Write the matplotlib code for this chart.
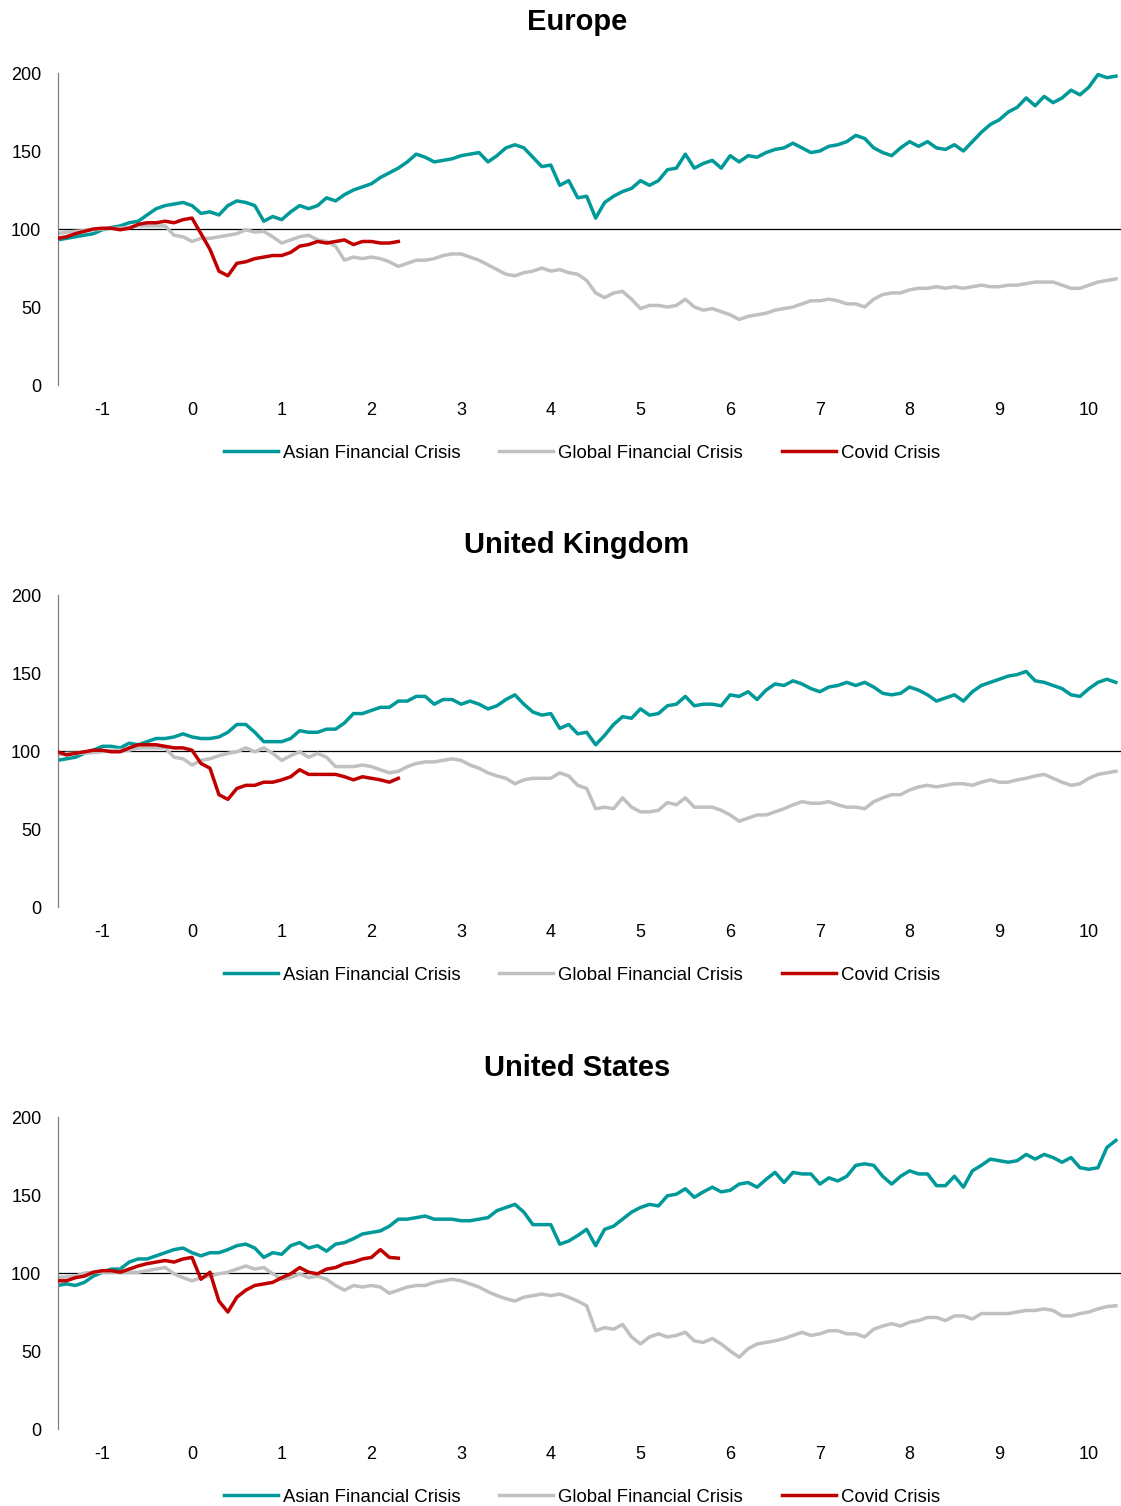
import numpy as np
import matplotlib.pyplot as plt

plt.rcParams['font.family'] = ['Liberation Sans', 'DejaVu Sans']
plt.rcParams['axes.unicode_minus'] = False

# years relative to the start of each crisis
years = np.round(np.arange(-1.5, 10.35, 0.1), 1)
covid_years = years[:39]

europe_afc = [93, 94, 95, 96, 97, 99.5, 101, 102, 104, 105,
              109, 113, 115, 116, 117, 115, 110, 111, 109, 115,
              118, 117, 115, 105, 108, 106, 111, 115, 113, 115,
              120, 118, 122, 125, 127, 129, 133, 136, 139, 143,
              148, 146, 143, 144, 145, 147, 148, 149, 143, 147,
              152, 154, 152, 146, 140, 141,
              128, 131, 120, 121, 107, 117, 121, 124, 126, 131,
              128, 131, 138, 139, 148, 139, 142, 144, 139, 147,
              143, 147, 146, 149, 151, 152, 155, 152, 149, 150,
              153, 154, 156, 160, 158, 152, 149, 147, 152, 156,
              153, 156, 152, 151, 154, 150, 156, 162, 167, 170,
              175, 178, 184, 179, 185, 181, 184, 189, 186, 191,
              199, 197, 198]
europe_gfc = [97, 98, 98.5, 99, 99.5, 100, 100.5, 100.5, 101, 102,
              102, 102, 102, 96, 95, 92, 94, 94, 95, 96,
              97, 99.5, 98, 98.5, 95, 91, 93, 95, 96, 93,
              92, 89, 80, 82, 81, 82, 81, 79, 76, 78,
              80, 80, 81, 83, 84, 84, 82, 80, 77, 74,
              71, 70, 72, 73, 75, 73,
              74, 72, 71, 67, 59, 56, 59, 60, 55, 49,
              51, 51, 50, 51, 55, 50, 48, 49, 47, 45,
              42, 44, 45, 46, 48, 49, 50, 52, 54, 54,
              55, 54, 52, 52, 50, 55, 58, 59, 59, 61,
              62, 62, 63, 62, 63, 62, 63, 64, 63, 63,
              64, 64, 65, 66, 66, 66, 64, 62, 62, 64,
              66, 67, 68]
europe_covid = [94, 95, 97, 98.5, 100, 100.5, 100.5, 99.5, 100.5, 103,
                104, 104, 105, 104, 106, 107, 97, 87, 73, 70,
                78, 79, 81, 82, 83, 83, 85, 89, 90, 92,
                91, 92, 93, 90, 92, 92, 91, 91, 92]

uk_afc = [94, 95, 96, 98.5, 100.5, 103, 103, 102, 105, 104,
          106, 108, 108, 109, 111, 109, 108, 108, 109, 112,
          117, 117, 112, 106, 106, 106, 108, 113, 112, 112,
          114, 114, 118, 124, 124, 126, 128, 128, 132, 132,
          135, 135, 130, 133, 133, 130, 132, 130, 127, 129,
          133, 136, 130, 125, 123, 124,
          114.5, 117, 111, 112, 104, 110, 117, 122, 121, 127,
          123, 124, 129, 130, 135, 129, 130, 130, 129, 136,
          135, 138, 133, 139, 143, 142, 145, 143, 140, 138,
          141, 142, 144, 142, 144, 141, 137, 136, 137, 141,
          139, 136, 132, 134, 136, 132, 138, 142, 144, 146,
          148, 149, 151, 145, 144, 142, 140, 136, 135, 140,
          144, 146, 144]
uk_gfc = [97.5, 98.5, 98.5, 98.5, 99, 99.5, 100.5, 100.5, 100.5, 102,
          102, 102, 102, 96, 95, 91, 94, 95, 97, 98.5,
          99.5, 102, 99.5, 102, 98.5, 94, 97, 99.5, 96, 98.5,
          96, 90, 90, 90, 91, 90, 88, 86, 87, 90,
          92, 93, 93, 94, 95, 94, 91, 89, 86, 84,
          82.5, 79, 81.5, 82.5, 82.5, 82.5,
          86, 84, 78, 76, 63, 64, 63, 70, 64, 61,
          61, 62, 67, 65.5, 70, 64, 64, 64, 62, 59,
          55, 57, 59, 59, 61, 63, 65.5, 67.5, 66.5, 66.5,
          67.5, 65.5, 64, 64, 63, 67.5, 70, 72, 72, 75,
          77, 78, 77, 78, 79, 79, 78, 80, 81.5, 80,
          80, 81.5, 82.5, 84, 85, 82.5, 80, 78, 79, 82.5,
          85, 86, 87]
uk_covid = [99.5, 97.5, 98.5, 99.5, 100.5, 100.5, 99.5, 99.5, 102, 104,
            104, 104, 103, 102, 102, 100.5, 92, 89, 72, 69,
            76, 78, 78, 80, 80, 81.5, 83.5, 88, 85, 85,
            85, 85, 83.5, 81.5, 83.5, 82.5, 81.5, 80, 82.5]

us_afc = [92, 93, 92, 94, 98, 100.5, 102.5, 102.5, 107, 109,
          109, 111, 113, 115, 116, 113, 111, 113, 113, 115,
          117.5, 118.5, 116, 110, 113, 112, 117.5, 119.5, 116, 117.5,
          114, 118.5, 119.5, 122, 125, 126, 127, 130, 134.5, 134.5,
          135.5, 136.5, 134.5, 134.5, 134.5, 133.5, 133.5, 134.5, 135.5, 140,
          142, 144, 139, 131, 131, 131,
          118.5, 120.5, 124, 128, 117.5, 128, 130, 134.5, 139, 142,
          144, 143, 149.5, 150.5, 154, 148.5, 152, 155, 152, 153,
          157, 158, 155, 160, 164.5, 158, 164.5, 163.5, 163.5, 157,
          161, 159, 162, 169, 170, 169, 162, 157, 162, 165.5,
          163.5, 163.5, 156, 156, 162, 155, 165.5, 169, 173, 172,
          171, 172, 176, 173, 176, 174, 171, 174, 167.5, 166.5,
          167.5, 180.5, 185]
us_gfc = [97, 97.5, 98, 100, 100.5, 100.5, 100.5, 100.5, 100.5, 100.5,
          101.5, 102.5, 103.5, 99.5, 97, 95, 97, 98, 99.5, 100.5,
          102.5, 104.5, 102.5, 103.5, 99.5, 96, 97, 99.5, 97, 98,
          96, 92, 89, 92, 91, 92, 91, 87, 89, 91,
          92, 92, 94, 95, 96, 95, 93, 91, 88, 85.5,
          83.5, 82, 84.5, 85.5, 86.5, 85.5,
          86.5, 84.5, 82, 79, 63, 65, 64, 67, 59, 54.5,
          59, 61, 59, 60, 62, 56.5, 55.5, 58, 54.5, 50,
          46, 51.5, 54.5, 55.5, 56.5, 58, 60, 62, 60, 61,
          63, 63, 61, 61, 59, 64, 66, 67.5, 66, 68.5,
          69.5, 71.5, 71.5, 69.5, 72.5, 72.5, 70.5, 74, 74, 74,
          74, 75, 76, 76, 77, 76, 72.5, 72.5, 74, 75,
          77, 78.5, 79]
us_covid = [95, 95, 97, 98, 100.5, 101.5, 101.5, 100.5, 102.5, 104.5,
            106, 107, 108, 107, 109, 110, 96, 100.5, 82, 75,
            84.5, 89, 92, 93, 94, 97, 99.5, 103.5, 100.5, 99.5,
            102.5, 103.5, 106, 107, 109, 110, 115, 110, 109.5]

regions = ['Europe', 'United Kingdom', 'United States']
afc = [europe_afc, uk_afc, us_afc]
gfc = [europe_gfc, uk_gfc, us_gfc]
covid = [europe_covid, uk_covid, us_covid]

W, H = 1121, 1506
fig = plt.figure(figsize=(W / 100, H / 100), dpi=100)

# pixel layout of each panel: axes top, axes bottom, title y, legend y
tops = [73, 595, 1117]
bottoms = [385, 907, 1429]
title_y = [22, 545, 1068]
legend_y = [453, 975, 1497]

for i in range(3):
    ax = fig.add_axes([58 / W, 1 - bottoms[i] / H, (W - 58) / W, (bottoms[i] - tops[i]) / H])
    ax.axhline(100, color='black', lw=0.9, zorder=1)
    ax.plot(years, afc[i], color='#009999', lw=2.5, label='Asian Financial Crisis', zorder=2)
    ax.plot(years, gfc[i], color='#C0C0C0', lw=2.5, label='Global Financial Crisis', zorder=2)
    ax.plot(covid_years, covid[i], color='#C00000', lw=2.5, label='Covid Crisis', zorder=3)
    ax.set_xlim(-1.494, 10.357)
    ax.set_ylim(0, 200)
    ax.set_xticks(range(-1, 11))
    ax.set_yticks([0, 50, 100, 150, 200])
    ax.tick_params(axis='both', length=0, labelsize=13)
    ax.tick_params(axis='x', pad=12)
    ax.tick_params(axis='y', pad=12)
    for s in ['top', 'right', 'bottom']:
        ax.spines[s].set_visible(False)
    ax.spines['left'].set_color('#808080')
    ax.spines['left'].set_linewidth(0.9)
    fig.text(577 / W, 1 - title_y[i] / H, regions[i], ha='center', va='center',
             fontsize=21, fontweight='bold')
    ax.legend(loc='center', bbox_to_anchor=(582 / W, 1 - legend_y[i] / H),
              bbox_transform=fig.transFigure, ncol=3, frameon=False,
              fontsize=13.4, handlelength=2.9, handletextpad=0.27, columnspacing=2.1)

plt.savefig('out.png', dpi=100)
